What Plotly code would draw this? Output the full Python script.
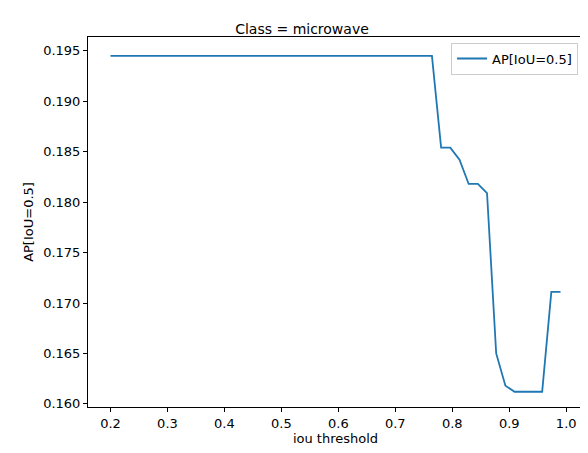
import plotly.graph_objects as go

iou = [0.2, 0.2161, 0.2322, 0.2484, 0.2645, 0.2806, 0.2967, 0.3129, 0.329, 0.3451,
       0.3612, 0.3773, 0.3935, 0.4096, 0.4257, 0.4418, 0.4580, 0.4741, 0.4902, 0.5063,
       0.5224, 0.5386, 0.5547, 0.5708, 0.5869, 0.6031, 0.6192, 0.6353, 0.6514, 0.6676,
       0.6837, 0.6998, 0.7159, 0.7320, 0.7482, 0.7643, 0.7804, 0.7965, 0.8127, 0.8288,
       0.8449, 0.8610, 0.8771, 0.8933, 0.9094, 0.9255, 0.9416, 0.9578, 0.9739, 0.99]
ap = [0.1945] * 36 + [0.1854, 0.1854, 0.1842, 0.1818, 0.1818, 0.1809, 0.1650, 0.1618,
                      0.1612, 0.1612, 0.1612, 0.1612, 0.1711, 0.1711]

fig = go.Figure()
fig.add_trace(go.Scatter(x=iou, y=ap, mode='lines', name='AP[IoU=0.5]',
                         line=dict(color='#1f77b4', width=1.8)))

axis = dict(showgrid=False, zeroline=False, showline=True, mirror=True, linecolor='black',
            linewidth=1, ticks='outside', ticklen=4, tickcolor='black', automargin=False)
fig.update_layout(
    width=588, height=453,
    margin=dict(l=80, r=13, t=29, b=54),
    plot_bgcolor='white', paper_bgcolor='white',
    font=dict(family='DejaVu Sans', size=13, color='black'),
    title=dict(text='Class = microwave', x=0.5, xanchor='center', y=0.965, font=dict(size=14)),
    xaxis=dict(axis, range=[0.1605, 1.0295], dtick=0.1, tickformat='.1f',
               title=dict(text='iou threshold', standoff=4, font=dict(size=13))),
    yaxis=dict(axis, range=[0.15969, 0.19637], dtick=0.005, tickformat='.3f',
               title=dict(text='AP[IoU=0.5]', standoff=6, font=dict(size=13))),
    showlegend=True,
    legend=dict(x=0.99, y=0.985, xanchor='right', yanchor='top', bordercolor='#cccccc',
                borderwidth=1, font=dict(size=13)),
)
fig.write_html("out.html")
